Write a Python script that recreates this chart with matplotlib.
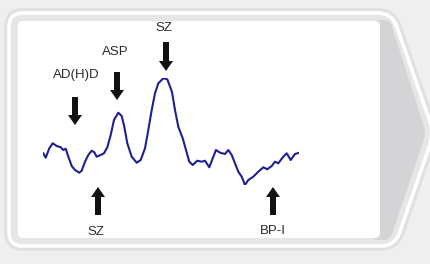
import numpy as np
import matplotlib
matplotlib.use("Agg")
import matplotlib.pyplot as plt
from matplotlib.path import Path
from matplotlib.patches import PathPatch, FancyArrow

plt.rcParams['font.family'] = ['Liberation Sans', 'DejaVu Sans']

# signal trace (sample index, amplitude)
t = [0, 2.4, 6, 9.4, 13.4, 17.4, 20, 22.4, 25, 28.4, 31.7, 36, 38.4, 41.7, 45, 48.4,
     51, 53.4, 57.4, 60.7, 64, 67.4, 70.7, 75, 78.4, 81, 84, 88.4, 93.4, 97.4, 101.7,
     105, 108.4, 111.7, 115, 120, 124, 128.7, 131.7, 135, 139.4, 142.7, 146, 149.4,
     154, 158.4, 161.7, 166, 169.4, 172.7, 176.7, 181.7, 185, 188.4, 191.7, 195,
     198.4, 201.7, 205, 210, 215, 220, 224, 228.4, 231.7, 235, 240, 243.4, 247.4,
     251.7, 256]
amp = [31.7, 27.3, 36.7, 41.7, 39, 37.7, 35, 36.3, 28.3, 19, 15, 12.3, 14.3, 23.3, 30,
       34.3, 32.7, 28.3, 30, 31.7, 37.7, 50, 65, 72.3, 69, 58.3, 41.7, 28.3, 22.3, 25,
       36.7, 55, 75, 91.7, 101.7, 106.7, 105.7, 93, 75, 58.3, 46.7, 35, 23.3, 20, 24.3,
       23.3, 24.3, 17.7, 26.7, 35, 32.3, 31, 35, 30, 21.7, 13.3, 8.3, 0, 5, 8.3, 13.3,
       17.7, 15.7, 19, 23.3, 21.7, 28.3, 31.7, 25, 31, 32.3]

# labels with arrows: text, text pos, arrow tail, arrow head (pixel layout)
labels = ['AD(H)D', 'ASP', 'SZ', 'SZ', 'BP-I']
label_pos = [(76, 75), (115, 52), (164, 28), (96, 232), (273, 231)]
arrow_tail = [(75, 97), (117, 72), (166, 42), (98, 215), (273, 215)]
arrow_head = [(75, 125), (117, 100), (166, 71), (98, 187), (273, 187)]

W, H = 430, 264
fig = plt.figure(figsize=(W / 100, H / 100), dpi=100)
fig.patch.set_facecolor('#efefef')
bg = fig.add_axes([0, 0, 1, 1])
bg.set_xlim(0, W)
bg.set_ylim(H, 0)
bg.axis('off')


def rounded_path(pts, r):
    verts, codes = [], []
    n = len(pts)
    for i in range(n):
        p0, p1, p2 = np.array(pts[i - 1], float), np.array(pts[i], float), np.array(pts[(i + 1) % n], float)
        d0 = (p0 - p1) / np.linalg.norm(p0 - p1)
        d2 = (p2 - p1) / np.linalg.norm(p2 - p1)
        verts.append(p1 + d0 * r)
        codes.append(Path.MOVETO if i == 0 else Path.LINETO)
        verts += [p1, p1 + d2 * r]
        codes += [Path.CURVE3, Path.CURVE3]
    verts.append(verts[0])
    codes.append(Path.CLOSEPOLY)
    return Path(verts, codes)


outer = rounded_path([(9, 13), (392, 13), (434, 133), (395, 246), (9, 246)], 14)
bg.add_patch(PathPatch(outer, fc='none', ec='#e0e0e0', lw=7, zorder=1))
bg.add_patch(PathPatch(outer, fc='#e6e6e6', ec='white', lw=2.6, zorder=2))
chev = rounded_path([(372, 20), (390, 20), (426, 133), (390, 240), (372, 240)], 6)
bg.add_patch(PathPatch(chev, fc='#d4d4d6', ec='none', zorder=3))
inner = rounded_path([(18, 21), (380, 21), (380, 238), (18, 238)], 5)
bg.add_patch(PathPatch(inner, fc='white', ec='none', zorder=4))

for txt, lp, tl, hd in zip(labels, label_pos, arrow_tail, arrow_head):
    bg.text(lp[0], lp[1], txt, ha='center', va='center', fontsize=9.5,
            color='#2a2a2a', zorder=6)
    bg.add_patch(FancyArrow(tl[0], tl[1], hd[0] - tl[0], hd[1] - tl[1], width=6,
                            head_width=14, head_length=10, length_includes_head=True,
                            fc='#111111', ec='none', zorder=6))

ax = fig.add_axes([43.3 / W, (H - 185) / H, 256 / W, 106.7 / H])
ax.patch.set_alpha(0)
ax.plot(t, amp, color='#1f1f8e', lw=1.5, solid_joinstyle='round')
ax.set_xlim(0, 256)
ax.set_ylim(0, 106.7)
ax.axis('off')

fig.savefig('out.png', dpi=100, facecolor=fig.get_facecolor())
